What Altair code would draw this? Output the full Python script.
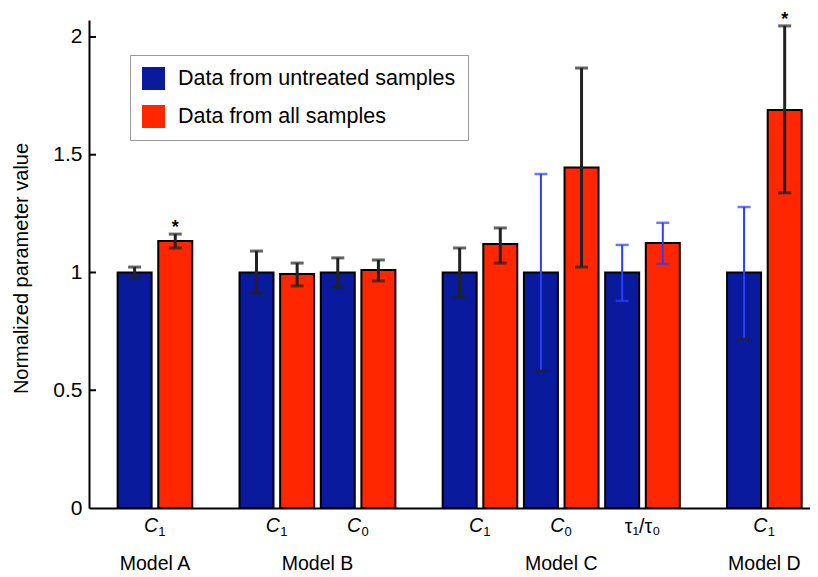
import altair as alt
import pandas as pd

# ---- data ----
groups = ["Model A", "Model B", "Model C", "Model D"]
# parameter label: (symbol, subscript); τ₁/τ₀ is written out in one string
group_params = [[("C", "1")], [("C", "1"), ("C", "0")],
                [("C", "1"), ("C", "0"), ("τ₁/τ₀", "")], [("C", "1")]]

series = ["Data from untreated samples", "Data from all samples"]

untreated_value = [1.0, 1.0, 1.0, 1.0, 1.0, 1.0, 1.0]
untreated_lo = [0.977, 0.913, 0.938, 0.896, 0.582, 0.879, 0.718]
untreated_hi = [1.023, 1.091, 1.062, 1.104, 1.418, 1.117, 1.278]

all_value = [1.134, 0.994, 1.011, 1.121, 1.446, 1.125, 1.690]
all_lo = [1.104, 0.943, 0.964, 1.040, 1.023, 1.036, 1.338]
all_hi = [1.163, 1.040, 1.053, 1.189, 1.868, 1.211, 2.047]

# error-bar colouring: k = dark, b = blue
untreated_err = ["k", "k", "k", "k", "b", "b", "b"]
untreated_lo_cap = ["k", "k", "k", "k", "k", "b", "k"]
all_err = ["k", "k", "k", "k", "k", "b", "k"]
significant = [True, False, False, False, False, False, True]

y_ticks = [0, 0.5, 1, 1.5, 2]

# ---- styling ----
NAVY = "#0a1a9c"
RED = "#ff2600"
DARK = "#222222"
BLUE = "#2b3dff"
FONT = "Liberation Sans"
col = {"k": DARK, "b": BLUE}

# ---- build tables ----
bars, caps, plabels, glabels = [], [], [], []
slot = 0
i = 0
for g, params in zip(groups, group_params):
    gstart = slot
    for main, sub in params:
        for s_idx, s in enumerate(series):
            if s_idx == 0:
                v, lo, hi = untreated_value[i], untreated_lo[i], untreated_hi[i]
                lc, loc, hic = untreated_err[i], untreated_lo_cap[i], untreated_err[i]
                sig = False
            else:
                v, lo, hi = all_value[i], all_lo[i], all_hi[i]
                lc, loc, hic = all_err[i], all_err[i], all_err[i]
                sig = significant[i]
            bars.append(dict(pos=slot, series=s, value=v, lo=lo, hi=hi,
                             lcolor=col[lc], lw=3 if lc == "k" else 2, sig="*" if sig else ""))
            caps.append(dict(pos=slot, y=lo, c=col[loc], kind=loc))
            caps.append(dict(pos=slot, y=hi, c=col[hic], kind=hic))
            slot += 1
        plabels.append(dict(pos=slot - 1.5, main=main, sub=sub, italic=sub != ""))
        i += 1
    glabels.append(dict(pos=(gstart + slot - 1) / 2, label=g))
    slot += 1

bars = pd.DataFrame(bars)
caps = pd.DataFrame(caps)
plabels = pd.DataFrame(plabels)
glabels = pd.DataFrame(glabels)
ticks = pd.DataFrame({"t": y_ticks[1:]})

xscale = alt.Scale(domain=[-1, 16.5], nice=False, zero=False)
yscale = alt.Scale(domain=[0, 2.072], nice=False, zero=False)

bar_layer = alt.Chart(bars).mark_bar(size=34, stroke="black", strokeWidth=2).encode(
    x=alt.X("pos:Q", scale=xscale,
            axis=alt.Axis(labels=False, ticks=False, grid=False, title=None,
                          domainColor="black", domainWidth=2)),
    y=alt.Y("value:Q", scale=yscale,
            axis=alt.Axis(values=y_ticks, format="~g", labelFontSize=21, labelFont=FONT,
                          labelColor="black", labelPadding=7, ticks=False, grid=False,
                          domainColor="black", domainWidth=2,
                          title="Normalized parameter value", titleFont=FONT,
                          titleFontSize=20, titleFontWeight="normal", titleColor="black",
                          titleX=-68, titleY=248, titleBaseline="middle", titleAlign="center")),
    color=alt.Color("series:N",
                    scale=alt.Scale(domain=series, range=[NAVY, RED]),
                    legend=alt.Legend(orient="none", legendX=41, legendY=35, title=None,
                                      symbolType="square", symbolSize=529,
                                      symbolStrokeWidth=0, labelFontSize=21.5, labelFont=FONT,
                                      labelColor="black", labelLimit=0, labelOffset=13,
                                      padding=12, rowPadding=15, strokeColor="#999999",
                                      fillColor="white")),
)

err_layer = alt.Chart(bars).mark_rule().encode(
    x=alt.X("pos:Q", scale=xscale),
    y=alt.Y("lo:Q", scale=yscale),
    y2="hi:Q",
    color=alt.Color("lcolor:N", scale=None),
    strokeWidth=alt.StrokeWidth("lw:Q", scale=None),
)

cap_k = alt.Chart(caps).transform_filter(alt.datum.kind == "k").mark_tick(
    orient="horizontal", size=13, thickness=3).encode(
    x=alt.X("pos:Q", scale=xscale),
    y=alt.Y("y:Q", scale=yscale),
    color=alt.Color("c:N", scale=None),
)
cap_b = alt.Chart(caps).transform_filter(alt.datum.kind == "b").mark_tick(
    orient="horizontal", size=13, thickness=2.5).encode(
    x=alt.X("pos:Q", scale=xscale),
    y=alt.Y("y:Q", scale=yscale),
    color=alt.Color("c:N", scale=None),
)

star_layer = alt.Chart(bars).transform_filter(alt.datum.sig == "*").mark_text(
    fontSize=18, fontWeight="bold", font=FONT, color="black", baseline="alphabetic", dy=-1).encode(
    x=alt.X("pos:Q", scale=xscale),
    y=alt.Y("hi:Q", scale=yscale),
    text="sig:N",
)

tick_layer = alt.Chart(ticks).mark_rule(color="black", strokeWidth=2).encode(
    x=alt.value(0), x2=alt.value(7),
    y=alt.Y("t:Q", scale=yscale),
)

plab_main = alt.Chart(plabels).transform_filter(alt.datum.italic).mark_text(
    fontSize=19.5, font=FONT, fontStyle="italic", color="black", baseline="alphabetic",
    dx=-4).encode(
    x=alt.X("pos:Q", scale=xscale), y=alt.value(512), text="main:N")
plab_sub = alt.Chart(plabels).transform_filter(alt.datum.italic).mark_text(
    fontSize=13, font=FONT, color="black", baseline="alphabetic", dx=7).encode(
    x=alt.X("pos:Q", scale=xscale), y=alt.value(516), text="sub:N")
plab_up = alt.Chart(plabels).transform_filter(~alt.datum.italic).mark_text(
    fontSize=19.5, font=FONT, color="black", baseline="alphabetic").encode(
    x=alt.X("pos:Q", scale=xscale), y=alt.value(513), text="main:N")
glab = alt.Chart(glabels).mark_text(
    fontSize=19.5, font=FONT, color="black", baseline="alphabetic").encode(
    x=alt.X("pos:Q", scale=xscale), y=alt.value(550), text="label:N")

chart = alt.layer(bar_layer, err_layer, cap_k, cap_b, star_layer, tick_layer,
                  plab_main, plab_sub, plab_up, glab).properties(
    width=721, height=488,
    padding={"left": 81, "top": 12, "right": 0, "bottom": 68},
    autosize=alt.AutoSizeParams(type="none"),
).configure(font=FONT).configure_view(stroke=None)

chart.save("out.html", embed_options={"renderer": "svg", "actions": False})
